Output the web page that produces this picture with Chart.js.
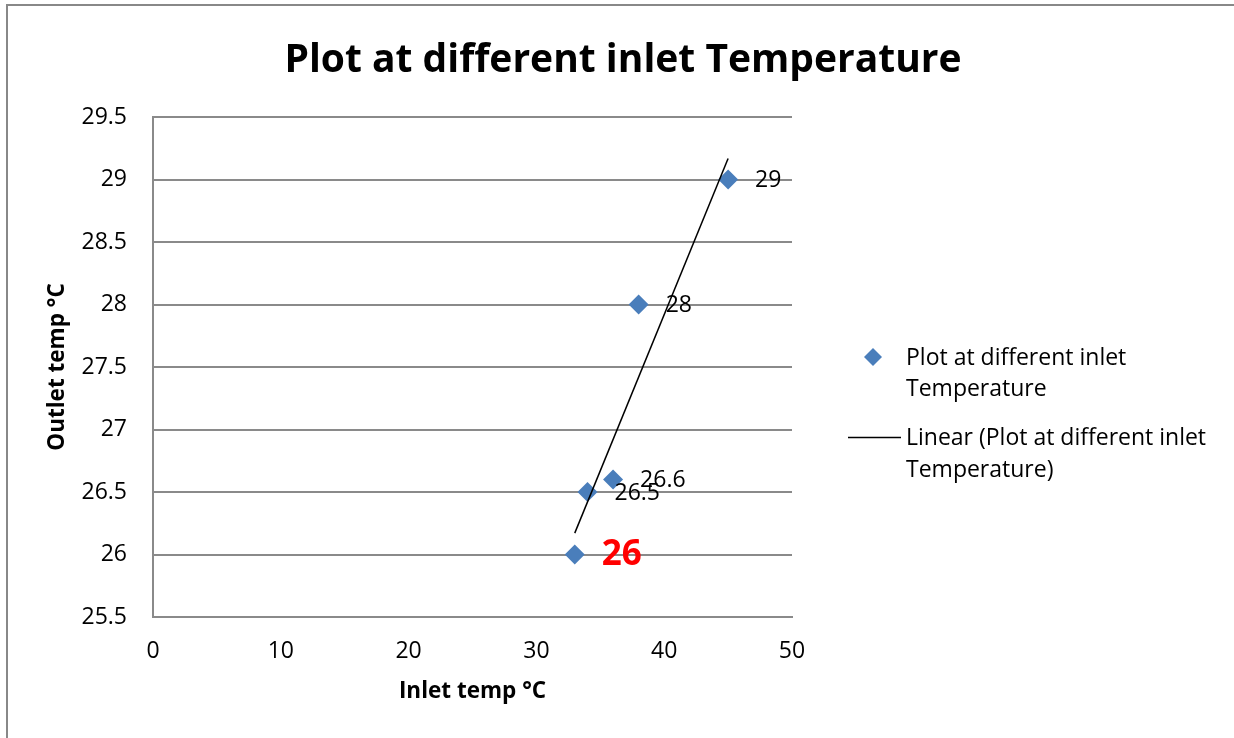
<!DOCTYPE html>
<html><head><meta charset="utf-8">
<script src="https://cdn.jsdelivr.net/npm/chart.js@4/dist/chart.umd.min.js"></script>
<style>html,body{margin:0;padding:0;background:#fff;overflow:hidden}</style>
</head><body>
<canvas id="c" width="1234" height="738" style="display:block;width:1234px;height:738px"></canvas>
<script>
// ---- data ----
const chartTitle = 'Plot at different inlet Temperature';
const seriesName = 'Plot at different inlet Temperature';
const trendName = 'Linear (Plot at different inlet Temperature)';
const inletTemp = [33, 34, 36, 38, 45];
const outletTemp = [26, 26.5, 26.6, 28, 29];
const xTickValues = [0, 10, 20, 30, 40, 50];
const yTickValues = [25.5, 26, 26.5, 27, 27.5, 28, 28.5, 29, 29.5];
const yTickLabels = ['25.5', '26', '26.5', '27', '27.5', '28', '28.5', '29', '29.5'];
const xAxisTitle = 'Inlet temp °C';
const yAxisTitle = 'Outlet temp °C';
const legendLines = [['Plot at different inlet', 'Temperature'], ['Linear (Plot at different inlet', 'Temperature)']];

// linear trendline (least squares) from the data
const n = inletTemp.length;
const mx = inletTemp.reduce((a, b) => a + b, 0) / n;
const my = outletTemp.reduce((a, b) => a + b, 0) / n;
let sxy = 0, sxx = 0;
for (let i = 0; i < n; i++) { sxy += (inletTemp[i] - mx) * (outletTemp[i] - my); sxx += (inletTemp[i] - mx) ** 2; }
const slope = sxy / sxx, icpt = my - slope * mx;
const xMin = Math.min(...inletTemp), xMax = Math.max(...inletTemp);
const trendPts = [{x: xMin, y: icpt + slope * xMin}, {x: xMax, y: icpt + slope * xMax}];

const FONT = '"Open Sans", Lato, sans-serif';
const BLUE = '#4a7ebb';
const GRID = '#8a8a8a';
Chart.defaults.color = '#000';
Chart.defaults.font.family = FONT;

const decor = {
  id: 'decor',
  beforeDraw(chart) {
    const ctx = chart.ctx;
    ctx.save();
    ctx.fillStyle = '#fff';
    ctx.fillRect(0, 0, chart.width, chart.height);
    ctx.strokeStyle = '#888';
    ctx.lineWidth = 2;
    ctx.strokeRect(7, 5, chart.width + 10, chart.height + 10);
    ctx.restore();
  },
  afterDatasetsDraw(chart) {
    const ctx = chart.ctx;
    const meta = chart.getDatasetMeta(1);
    ctx.save();
    ctx.textBaseline = 'middle';
    ctx.textAlign = 'left';
    meta.data.forEach((el, i) => {
      const v = chart.data.datasets[1].data[i].y;
      if (i === 0) { ctx.font = 'bold 35px ' + FONT; ctx.fillStyle = '#ff0000'; }
      else { ctx.font = '23px ' + FONT; ctx.fillStyle = '#000'; }
      ctx.fillText(String(v), el.x + 27, el.y + 1);
    });
    ctx.restore();
  },
  afterDraw(chart) {
    const ctx = chart.ctx;
    ctx.save();
    // title
    ctx.fillStyle = '#000';
    ctx.font = 'bold 39px ' + FONT;
    ctx.textAlign = 'center';
    ctx.textBaseline = 'alphabetic';
    ctx.fillText(chartTitle, 623, 72);
    // legend
    ctx.font = '23px ' + FONT;
    ctx.textAlign = 'left';
    ctx.fillStyle = BLUE;
    ctx.beginPath();
    ctx.moveTo(873, 348); ctx.lineTo(882, 357); ctx.lineTo(873, 366); ctx.lineTo(864, 357); ctx.closePath();
    ctx.fill();
    ctx.strokeStyle = '#000';
    ctx.lineWidth = 1.5;
    ctx.beginPath(); ctx.moveTo(848, 437.5); ctx.lineTo(901, 437.5); ctx.stroke();
    ctx.fillStyle = '#000';
    ctx.fillText(legendLines[0][0], 906, 365);
    ctx.fillText(legendLines[0][1], 906, 396);
    ctx.fillText(legendLines[1][0], 906, 445);
    ctx.fillText(legendLines[1][1], 906, 477);
    ctx.restore();
  }
};

new Chart(document.getElementById('c'), {
  data: {
    datasets: [
      {
        type: 'line', label: trendName, data: trendPts, order: 0,
        borderColor: '#000', borderWidth: 1.5, pointRadius: 0, fill: false, tension: 0
      },
      {
        type: 'scatter', label: seriesName, order: 1,
        data: inletTemp.map((x, i) => ({x, y: outletTemp[i]})),
        pointStyle: 'rectRot', pointRadius: 10, pointHoverRadius: 10,
        backgroundColor: BLUE, borderColor: BLUE, borderWidth: 0
      }
    ]
  },
  options: {
    responsive: false, animation: false, devicePixelRatio: 1,
    layout: {padding: {top: 117, right: 442, left: 0, bottom: 0}},
    plugins: {legend: {display: false}, title: {display: false}, tooltip: {enabled: false}},
    scales: {
      x: {
        type: 'linear', min: 0, max: 50,
        afterBuildTicks: s => { s.ticks = xTickValues.map(v => ({value: v})); },
        afterFit: s => { s.height = 121; },
        grid: {display: false, drawTicks: false},
        border: {display: true, color: GRID, width: 2},
        ticks: {padding: 21, font: {size: 23, family: FONT}, color: '#000', maxRotation: 0},
        title: {display: true, text: xAxisTitle, color: '#000', font: {size: 22.5, weight: 'bold', family: FONT}, padding: {top: 0, bottom: 32.5}}
      },
      y: {
        type: 'linear', min: 25.5, max: 29.5,
        afterBuildTicks: s => { s.ticks = yTickValues.map(v => ({value: v})); },
        afterFit: s => { s.width = 153; },
        grid: {display: true, color: GRID, lineWidth: 2, drawTicks: false},
        border: {display: true, color: GRID, width: 2},
        ticks: {padding: 26, font: {size: 23, family: FONT}, color: '#000',
          callback: (v) => { const i = yTickValues.indexOf(v); return i >= 0 ? yTickLabels[i] : ''; }},
        title: {display: true, text: yAxisTitle, color: '#000', font: {size: 22.5, weight: 'bold', family: FONT}, padding: {top: 44, bottom: 0}}
      }
    }
  },
  plugins: [decor]
});
</script>
</body></html>
